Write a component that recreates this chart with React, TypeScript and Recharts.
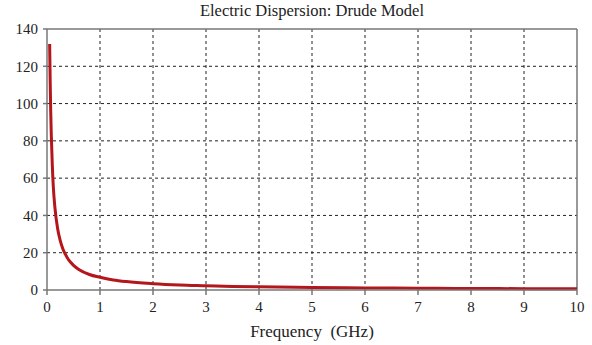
import React from "react";
import {
  LineChart,
  Line,
  XAxis,
  YAxis,
  CartesianGrid,
  ReferenceLine,
} from "recharts";

// frequency in GHz
const frequency = [
  0.05, 0.06, 0.07, 0.08, 0.1, 0.12, 0.15, 0.2, 0.25, 0.3, 0.35, 0.4, 0.45, 0.5,
  0.6, 0.8, 1, 1.25, 1.5, 2, 2.5, 3, 3.5, 4, 5, 6, 7, 7.7, 8, 9, 10,
];
const epsilon = [
  132, 112, 96, 84, 67, 55, 44, 33, 26.5, 22, 19, 16.5, 14.7, 13.2, 11, 8.3, 6.8,
  5.4, 4.5, 3.4, 2.7, 2.3, 1.9, 1.7, 1.35, 1.1, 0.95, 0.85, 0.8, 0.72, 0.65,
];
const xTicks = [0, 1, 2, 3, 4, 5, 6, 7, 8, 9, 10];
const yTicks = [0, 20, 40, 60, 80, 100, 120, 140];

const data = frequency.map((f, i) => ({ f, eps: epsilon[i] }));

const serif = "'Liberation Serif', 'DejaVu Serif', serif";
const axisGray = "#777";

export default function App() {
  return (
    <div style={{ position: "absolute", left: 0, top: 0, width: 592, height: 345, background: "#fff" }}>
      <div
        style={{
          position: "absolute",
          left: 47,
          width: 530,
          top: 1,
          textAlign: "center",
          fontFamily: serif,
          fontSize: 16.5,
          color: "#222",
        }}
      >
        Electric Dispersion: Drude Model
      </div>
      <LineChart width={592} height={345} data={data} margin={{ top: 29, right: 15, left: 0, bottom: 0 }}>
        <CartesianGrid
          stroke="#222"
          strokeDasharray="3 3"
          horizontalValues={[20, 40, 60, 80, 100, 120]}
          verticalValues={[1, 2, 3, 4, 5, 6, 7, 8, 9]}
        />
        <XAxis
          dataKey="f"
          type="number"
          domain={[0, 10]}
          ticks={xTicks}
          height={55}
          tickSize={5}
          tickMargin={6}
          stroke={axisGray}
          strokeWidth={1.5}
          tick={{ fill: "#222", fontFamily: serif, fontSize: 15 }}
          label={{
            value: "Frequency\u00a0\u00a0(GHz)",
            position: "insideBottom",
            offset: 8,
            fill: "#222",
            fontFamily: serif,
            fontSize: 17,
          }}
        />
        <YAxis
          type="number"
          domain={[0, 140]}
          ticks={yTicks}
          width={47}
          tickSize={4}
          tickMargin={5}
          stroke={axisGray}
          strokeWidth={1.5}
          tick={{ fill: "#222", fontFamily: serif, fontSize: 15 }}
        />
        <ReferenceLine y={140} stroke={axisGray} strokeWidth={1.5} />
        <ReferenceLine x={10} stroke={axisGray} strokeWidth={1.5} />
        <Line
          type="monotone"
          dataKey="eps"
          stroke="#b3161b"
          strokeWidth={3}
          dot={false}
          isAnimationActive={false}
        />
      </LineChart>
    </div>
  );
}
